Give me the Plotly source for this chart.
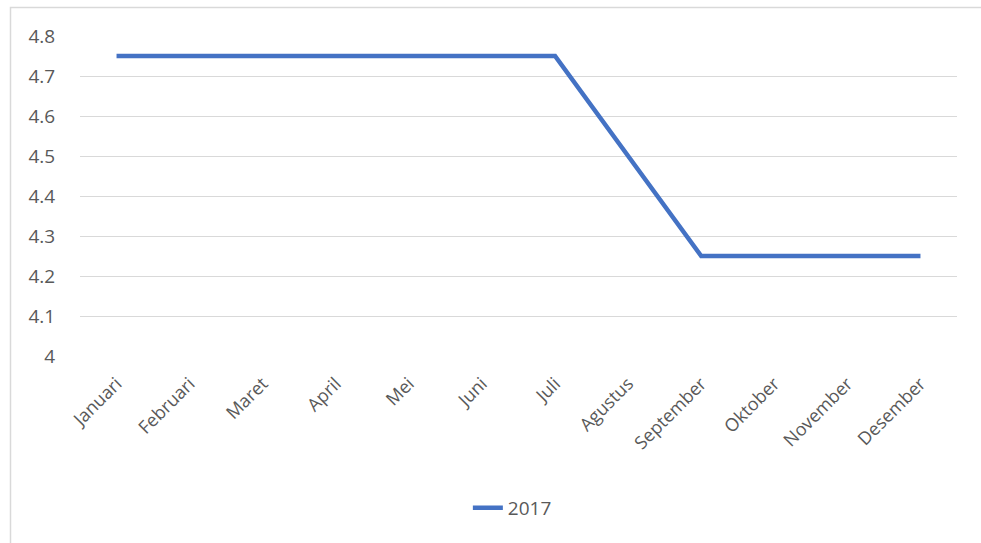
import plotly.graph_objects as go

months = ["Januari", "Februari", "Maret", "April", "Mei", "Juni", "Juli",
          "Agustus", "September", "Oktober", "November", "Desember"]
rate_2017 = [4.75, 4.75, 4.75, 4.75, 4.75, 4.75, 4.75, 4.5, 4.25, 4.25, 4.25, 4.25]
y_ticks = [4, 4.1, 4.2, 4.3, 4.4, 4.5, 4.6, 4.7, 4.8]

W, H = 981, 543
ML, MR, MT, MB = 80, 24, 36, 187
pw, ph = W - ML - MR, H - MT - MB

def px_x(x):
    return (x - ML) / pw

def px_y(y):
    return (H - MB - y) / ph

font_color = "#595959"
fam = "Open Sans, Noto Sans, sans-serif"

fig = go.Figure()
fig.add_trace(go.Scatter(
    x=months, y=rate_2017, mode="lines", name="2017",
    line=dict(color="#4472C4", width=4.5),
))

fig.update_layout(
    width=W, height=H,
    margin=dict(l=ML, r=MR, t=MT, b=MB),
    paper_bgcolor="white", plot_bgcolor="white",
    font=dict(family=fam, color=font_color, size=18),
    showlegend=True,
    legend=dict(orientation="h", x=0.493, xanchor="center", y=px_y(508),
                yanchor="middle", font=dict(size=19, color=font_color)),
    xaxis=dict(
        type="category", range=[-0.5, 11.5], tickangle=-45,
        showgrid=False, showline=False, zeroline=False,
        ticks="outside", ticklen=9, tickcolor="rgba(0,0,0,0)",
        tickfont=dict(size=18, color=font_color),
    ),
    yaxis=dict(
        range=[4, 4.8], tickvals=y_ticks, ticktext=[f"{v:g}" for v in y_ticks],
        showgrid=True, gridcolor="#D9D9D9", gridwidth=1.3,
        zeroline=False, showline=False,
        ticks="outside", ticklen=20, tickcolor="rgba(0,0,0,0)",
        tickfont=dict(size=19, color=font_color),
    ),
    shapes=[dict(
        type="rect", xref="paper", yref="paper",
        x0=px_x(10.5), x1=px_x(1000), y0=px_y(560), y1=px_y(7.5),
        line=dict(color="#D9D9D9", width=1.5), fillcolor="rgba(0,0,0,0)",
        layer="below",
    )],
)

fig.write_html("out.html")
